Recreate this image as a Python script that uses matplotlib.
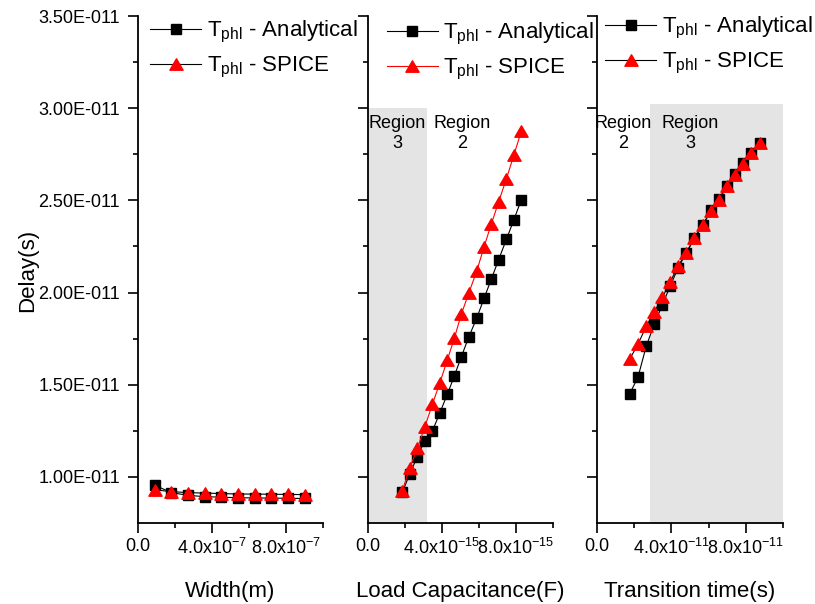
import matplotlib
matplotlib.use("Agg")
import matplotlib.pyplot as plt
from matplotlib.ticker import FixedLocator, FuncFormatter
from matplotlib.path import Path
from matplotlib.patches import Rectangle

plt.rcParams['font.family'] = ['Liberation Sans', 'DejaVu Sans']
plt.rcParams['mathtext.fontset'] = 'custom'
plt.rcParams['mathtext.rm'] = 'Liberation Sans'
plt.rcParams['mathtext.it'] = 'Liberation Sans:italic'
plt.rcParams['mathtext.bf'] = 'Liberation Sans:bold'

# ---------------- data ----------------
width_x = [0.9e-7, 1.8e-7, 2.7e-7, 3.6e-7, 4.5e-7, 5.4e-7, 6.3e-7, 7.2e-7, 8.1e-7, 9.0e-7]
width_analytical = [0.955e-11, 0.915e-11, 0.900e-11, 0.893e-11, 0.890e-11, 0.887e-11,
                    0.886e-11, 0.885e-11, 0.884e-11, 0.883e-11]
width_spice = [0.930e-11, 0.920e-11, 0.915e-11, 0.912e-11, 0.910e-11, 0.907e-11,
               0.907e-11, 0.906e-11, 0.905e-11, 0.904e-11]

cap_x = [1.86e-15, 2.25e-15, 2.67e-15, 3.06e-15, 3.48e-15, 3.88e-15, 4.29e-15, 4.67e-15,
         5.05e-15, 5.44e-15, 5.88e-15, 6.27e-15, 6.67e-15, 7.06e-15, 7.48e-15, 7.89e-15, 8.29e-15]
cap_analytical = [0.917e-11, 1.015e-11, 1.110e-11, 1.196e-11, 1.248e-11, 1.347e-11, 1.448e-11,
                  1.549e-11, 1.653e-11, 1.757e-11, 1.862e-11, 1.968e-11, 2.074e-11, 2.178e-11,
                  2.288e-11, 2.396e-11, 2.504e-11]
cap_spice = [0.926e-11, 1.047e-11, 1.155e-11, 1.268e-11, 1.394e-11, 1.509e-11, 1.635e-11,
             1.754e-11, 1.884e-11, 1.995e-11, 2.117e-11, 2.247e-11, 2.373e-11, 2.491e-11,
             2.617e-11, 2.747e-11, 2.876e-11]

tr_x = [1.75e-11, 2.20e-11, 2.65e-11, 3.09e-11, 3.52e-11, 3.93e-11, 4.35e-11, 4.79e-11,
        5.24e-11, 5.69e-11, 6.13e-11, 6.56e-11, 6.98e-11, 7.42e-11, 7.87e-11, 8.28e-11, 8.77e-11]
tr_analytical = [1.449e-11, 1.540e-11, 1.710e-11, 1.831e-11, 1.935e-11, 2.034e-11, 2.131e-11,
                 2.214e-11, 2.295e-11, 2.367e-11, 2.446e-11, 2.509e-11, 2.577e-11, 2.644e-11,
                 2.703e-11, 2.757e-11, 2.811e-11]
tr_spice = [1.637e-11, 1.719e-11, 1.818e-11, 1.897e-11, 1.975e-11, 2.056e-11, 2.142e-11,
            2.214e-11, 2.295e-11, 2.367e-11, 2.443e-11, 2.502e-11, 2.577e-11, 2.637e-11,
            2.698e-11, 2.757e-11, 2.811e-11]

y_ticks = [1.0e-11, 1.5e-11, 2.0e-11, 2.5e-11, 3.0e-11, 3.5e-11]
y_tick_labels = ['1.00E-011', '1.50E-011', '2.00E-011', '2.50E-011', '3.00E-011', '3.50E-011']
y_minor = [1.25e-11, 1.75e-11, 2.25e-11, 2.75e-11, 3.25e-11]

panels = [
    dict(x=width_x, a=width_analytical, s=width_spice, xlim=1e-6,
         major=[0, 4e-7, 8e-7], minor=[2e-7, 6e-7, 1e-6], exp=-7, xlabel='Width(m)',
         spice_line='black', shade=None, regions=[], leg=(0.065, 0.994)),
    dict(x=cap_x, a=cap_analytical, s=cap_spice, xlim=1e-14,
         major=[0, 4e-15, 8e-15], minor=[2e-15, 6e-15, 1e-14], exp=-15,
         xlabel='Load Capacitance(F)', spice_line='red',
         shade=(0, 3.2e-15, 3.0e-11), regions=[(1.6e-15, '3'), (5.1e-15, '2')], leg=(0.10, 0.99)),
    dict(x=tr_x, a=tr_analytical, s=tr_spice, xlim=1e-10,
         major=[0, 4e-11, 8e-11], minor=[2e-11, 6e-11, 1e-10], exp=-11,
         xlabel='Transition time(s)', spice_line='black',
         shade=(2.85e-11, 1e-10, 3.02e-11), regions=[(1.43e-11, '2'), (5.0e-11, '3')], leg=(0.043, 1.002)),
]

W, H = 815, 604
fig = plt.figure(figsize=(W / 100, H / 100), dpi=100)
lefts = [138, 368, 597]
widths = [185, 185, 186]
ax_top, ax_bot = 16, 523

tri = Path([(-1, -0.866), (1, -0.866), (0, 0.866), (-1, -0.866)],
           [Path.MOVETO, Path.LINETO, Path.LINETO, Path.CLOSEPOLY])

for i, p in enumerate(panels):
    ax = fig.add_axes([lefts[i] / W, 1 - ax_bot / H, widths[i] / W, (ax_bot - ax_top) / H])
    ax.set_xlim(0, p['xlim'])
    ax.set_ylim(0.75e-11, 3.5e-11)
    for side in ('top', 'right'):
        ax.spines[side].set_visible(False)
    for side in ('left', 'bottom'):
        ax.spines[side].set_linewidth(1.3)
    if p['shade']:
        x0, x1, ytop = p['shade']
        ax.add_patch(Rectangle((x0, 0.75e-11), x1 - x0, ytop - 0.75e-11,
                               facecolor='#e4e4e4', edgecolor='none', zorder=0))
    for xr, lab in p['regions']:
        ax.text(xr, 2.965e-11, 'Region\n' + lab, ha='center', va='top', fontsize=13,
                linespacing=1.25, zorder=1)
    la, = ax.plot(p['x'], p['a'], color='black', lw=0.8, marker='s', markersize=6.8,
                  markerfacecolor='black', markeredgecolor='black', zorder=3,
                  label=r'T$_{\mathregular{phl}}$ - Analytical')
    ls, = ax.plot(p['x'], p['s'], color=p['spice_line'], lw=0.8, marker=tri, markersize=9.5,
                  markerfacecolor='red', markeredgecolor='red', zorder=4,
                  label=r'T$_{\mathregular{phl}}$ - SPICE')
    ax.yaxis.set_major_locator(FixedLocator(y_ticks))
    ax.yaxis.set_minor_locator(FixedLocator(y_minor))
    if i == 0:
        ax.set_yticklabels(y_tick_labels)
    else:
        ax.set_yticklabels([])
    ax.xaxis.set_major_locator(FixedLocator(p['major']))
    ax.xaxis.set_minor_locator(FixedLocator(p['minor']))
    e = p['exp']
    ax.xaxis.set_major_formatter(FuncFormatter(
        lambda v, pos, e=e: '0.0' if v == 0 else '%.1fx10$^{\\mathregular{%d}}$' % (v / 10 ** e, e)))
    ax.tick_params(which='major', direction='out', length=7, width=1.2, labelsize=13)
    ax.tick_params(axis='x', which='major', pad=4)
    ax.tick_params(axis='y', which='major', pad=6)
    ax.tick_params(which='minor', direction='out', length=3.5, width=1.2)
    ax.set_xlabel(p['xlabel'], fontsize=16, labelpad=16)
    leg = ax.legend(loc='upper left', bbox_to_anchor=p['leg'], frameon=False, fontsize=16,
                    numpoints=1, handlelength=2.3, handletextpad=0.25, labelspacing=0.45,
                    borderpad=0, borderaxespad=0)

fig.text(28 / W, 1 - 270 / H, 'Delay(s)', rotation=90, ha='center', va='center', fontsize=16)

fig.savefig('out.png', dpi=100)
